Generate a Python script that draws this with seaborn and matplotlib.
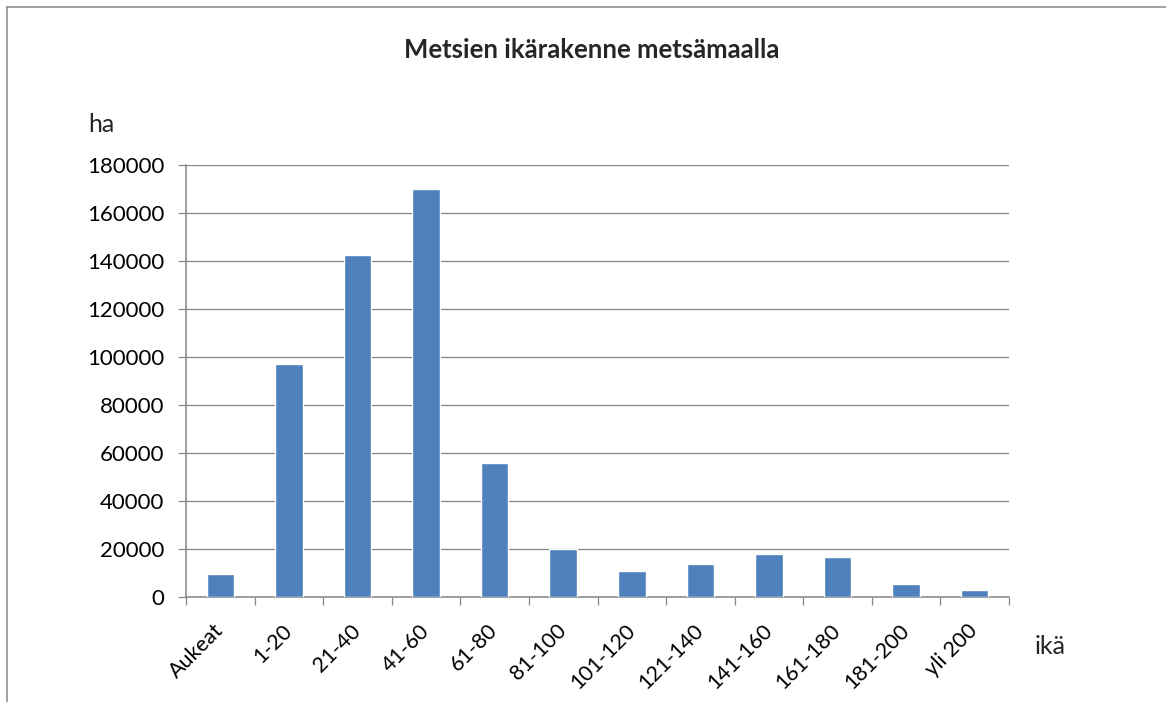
import matplotlib
matplotlib.use("Agg")
import matplotlib.pyplot as plt
import seaborn as sns
import numpy as np
import pandas as pd
from matplotlib.lines import Line2D

categories = ["Aukeat", "1-20", "21-40", "41-60", "61-80", "81-100", "101-120",
              "121-140", "141-160", "161-180", "181-200", "yli 200"]
values = [9500, 97000, 142700, 170000, 55800, 20000, 11000, 13800, 18000, 16600, 5400, 2900]
y_ticks = [0, 20000, 40000, 60000, 80000, 100000, 120000, 140000, 160000, 180000]

sns.set_theme(style="white")
plt.rcParams['font.family'] = ['Lato', 'DejaVu Sans']

df = pd.DataFrame({"ika": categories, "ha": values})

fig = plt.figure(figsize=(11.66, 7.02), dpi=100)
ax = fig.add_axes([186/1166, 105/702, 823/1166, 432/702])

sns.barplot(data=df, x="ika", y="ha", color="#4F81BD", saturation=1, width=0.4, ax=ax, zorder=3)

grid_c = "#868686"
ax.set_xlim(-0.5, len(categories) - 0.5)
ax.set_ylim(0, 180000)
ax.set_yticks(y_ticks)
ax.set_yticklabels([str(v) for v in y_ticks])
ax.yaxis.grid(True, color=grid_c, linewidth=0.9, zorder=0)
ax.set_axisbelow(True)
ax.xaxis.grid(False)

for s in ["top", "right"]:
    ax.spines[s].set_visible(False)
for s in ["left", "bottom"]:
    ax.spines[s].set_visible(True)
    ax.spines[s].set_color(grid_c)
    ax.spines[s].set_linewidth(1.1)

ax.tick_params(axis="y", which="major", length=5.5, width=0.9, color=grid_c,
               direction="out", left=True, pad=10, labelsize=16, labelcolor="black")
ax.set_xticks(np.arange(len(categories)))
ax.set_xticklabels(categories, rotation=45, ha="right", va="center", rotation_mode="anchor")
ax.set_xticks(np.arange(len(categories) + 1) - 0.5, minor=True)
ax.tick_params(axis="x", which="major", length=0, pad=22, labelsize=15.5, labelcolor="black", bottom=True)
ax.tick_params(axis="x", which="minor", length=5.5, width=0.9, color=grid_c, direction="out", bottom=True)

ax.set_xlabel("")
ax.set_ylabel("")

fig.text(592/1166, 1 - 50/702, "Metsien ikärakenne metsämaalla", ha="center", va="center",
         fontsize=18.5, fontweight="bold")
fig.text(88/1166, 1 - 125/702, "ha", ha="left", va="center", fontsize=18)
fig.text(1035/1166, 1 - 647/702, "ikä", ha="left", va="center", fontsize=18)

# outer chart frame (top and left visible)
fig.add_artist(Line2D([7/1166, 1], [1 - 7/702, 1 - 7/702], transform=fig.transFigure, color=grid_c, linewidth=1.1))
fig.add_artist(Line2D([7/1166, 7/1166], [0, 1 - 7/702], transform=fig.transFigure, color=grid_c, linewidth=1.1))

fig.savefig("out.png", dpi=100)
